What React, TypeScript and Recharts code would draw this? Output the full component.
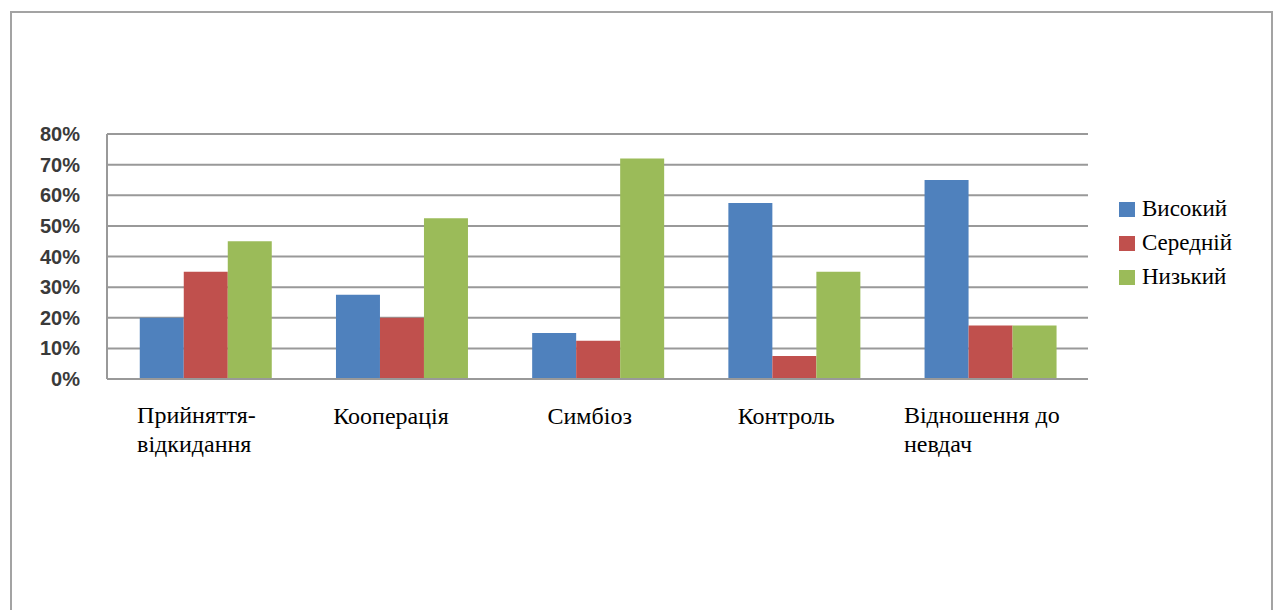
import { BarChart, Bar, XAxis, YAxis, CartesianGrid, Legend } from 'recharts';

// categories on the x axis, each split into the lines it is printed on
const categories = ['Прийняття-відкидання', 'Кооперація', 'Симбіоз', 'Контроль', 'Відношення до невдач'];
const categoryLines = [
    ['Прийняття-', 'відкидання'],
    ['Кооперація'],
    ['Симбіоз'],
    ['Контроль'],
    ['Відношення до', 'невдач'],
];

// percent values per level
const high = [20, 27.5, 15, 57.5, 65];
const medium = [35, 20, 12.5, 7.5, 17.5];
const low = [45, 52.5, 72, 35, 17.5];

const yTicks = [0, 10, 20, 30, 40, 50, 60, 70, 80];

const seriesNames = ['Високий', 'Середній', 'Низький'];
const seriesColors = ['#4f81bd', '#c0504d', '#9bbb59'];

const chartData = categories.map((name, i) => ({
    name,
    high: high[i],
    medium: medium[i],
    low: low[i],
}));

const serif = '"Liberation Serif", "Times New Roman", serif';

const CategoryTick = (props: any) => {
    const { x, y, payload } = props;
    const idx = categories.indexOf(payload.value);
    const lines = categoryLines[idx] || [payload.value];
    const fontSize = 24;
    const longest = Math.max(...lines.map(l => l.length));
    // lines of one label share a left edge, the block sits a bit left of the tick
    const left = x - 8 - (longest * fontSize * 0.5) / 2;
    return (
        <g>
            {lines.map((line, j) => (
                <text
                    key={j}
                    x={left}
                    y={y + (lines.length === 1 ? 43 : 42) + j * 29}
                    textAnchor="start"
                    fontFamily={serif}
                    fontSize={fontSize}
                    fill="#000"
                >
                    {line}
                </text>
            ))}
        </g>
    );
};

const LegendBox = () => (
    <div style={{ fontFamily: serif, fontSize: 23, color: '#000' }}>
        {seriesNames.map((name, i) => (
            <div key={name} style={{ display: 'flex', alignItems: 'center', height: 34 }}>
                <span style={{ display: 'inline-block', width: 16, height: 15, background: seriesColors[i], marginRight: 7 }} />
                <span>{name}</span>
            </div>
        ))}
    </div>
);

const App = () => {
    return (
        <div style={{ position: 'absolute', left: 0, top: 0, width: 1277, height: 610, overflow: 'hidden', background: '#fff' }}>
            <div
                style={{
                    position: 'absolute',
                    left: 10,
                    top: 11,
                    width: 1259,
                    height: 640,
                    border: '2px solid #a3a3a3',
                }}
            />
            <div style={{ position: 'absolute', left: 0, top: 0 }}>
                <BarChart
                    width={1277}
                    height={610}
                    data={chartData}
                    margin={{ top: 134, right: 39, left: 0, bottom: 171 }}
                    barCategoryGap="16.7%"
                    barGap={0}
                >
                    <CartesianGrid vertical={false} stroke="#999" strokeWidth={2} />
                    <XAxis
                        dataKey="name"
                        height={60}
                        axisLine={{ stroke: '#999', strokeWidth: 2 }}
                        tickLine={false}
                        tickSize={0}
                        interval={0}
                        tick={<CategoryTick />}
                    />
                    <YAxis
                        width={107}
                        domain={[0, 80]}
                        ticks={yTicks}
                        tickFormatter={(v: number) => `${v}%`}
                        axisLine={{ stroke: '#999', strokeWidth: 2 }}
                        tickLine={false}
                        tickSize={0}
                        tickMargin={27}
                        tick={{ fontFamily: '"Liberation Sans", Arial, sans-serif', fontSize: 20, fontWeight: 'bold', fill: '#3a3a3a' }}
                    />
                    <Legend
                        layout="vertical"
                        verticalAlign="top"
                        align="right"
                        content={<LegendBox />}
                        wrapperStyle={{ left: 1119, top: 192, width: 150 }}
                    />
                    <Bar dataKey="high" name={seriesNames[0]} fill={seriesColors[0]} isAnimationActive={false} />
                    <Bar dataKey="medium" name={seriesNames[1]} fill={seriesColors[1]} isAnimationActive={false} />
                    <Bar dataKey="low" name={seriesNames[2]} fill={seriesColors[2]} isAnimationActive={false} />
                </BarChart>
            </div>
        </div>
    );
};

export default App;
